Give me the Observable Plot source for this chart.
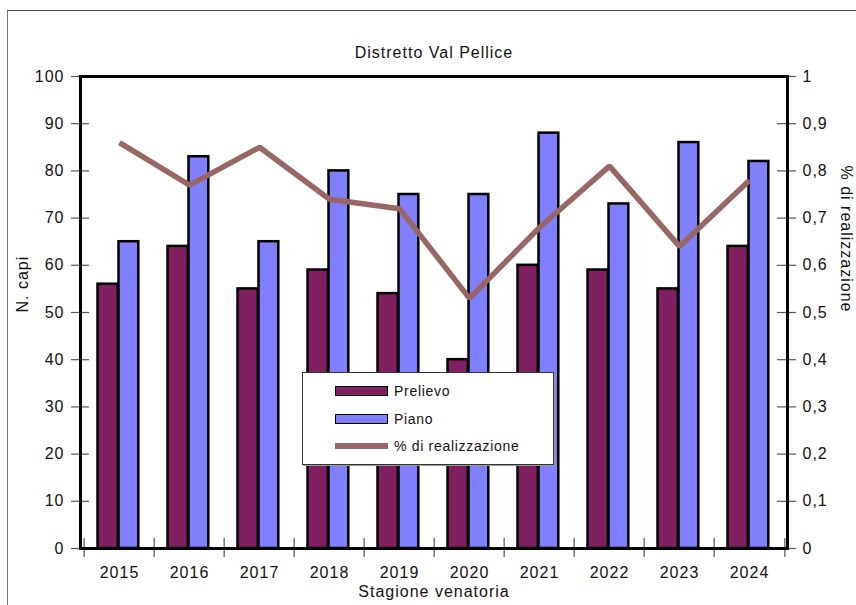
<!DOCTYPE html>
<html>
<head>
<meta charset="utf-8">
<script src="https://cdn.jsdelivr.net/npm/d3@7"></script>
<script src="https://cdn.jsdelivr.net/npm/@observablehq/plot@0.6"></script>
<style>
  html, body { margin: 0; padding: 0; background: #fff; }
  #wrap { position: relative; width: 856px; height: 605px; overflow: hidden; font-family: "Liberation Sans", Arial, sans-serif; }
  #border { position: absolute; left: 7px; top: 10px; width: 900px; height: 700px; border-top: 1px solid #444; border-left: 1px solid #777; }
  #legend { position: absolute; left: 302px; top: 372px; width: 250px; height: 91px; background: #fff; border: 1px solid #333; box-shadow: 1px 1px 0 #999; }
  .row { position: absolute; left: 0; height: 20px; width: 100%; }
  .sw { position: absolute; left: 32px; width: 51px; }
  .lab { position: absolute; left: 91px; top: 0; line-height: 20px; font-size: 14px; letter-spacing: 0.7px; color: #111; }
</style>
</head>
<body>
<div id="wrap">
  <div id="border"></div>
  <div id="chart"></div>
  <div id="legend"></div>
</div>
<script>
const title = "Distretto Val Pellice";
const xTitle = "Stagione venatoria";
const yTitle = "N. capi";
const y2Title = "% di realizzazione";
const years = ["2015","2016","2017","2018","2019","2020","2021","2022","2023","2024"];
const prelievo = [56, 64, 55, 59, 54, 40, 60, 59, 55, 64];
const piano = [65, 83, 65, 80, 75, 75, 88, 73, 86, 82];
const realizzazione = [0.86, 0.77, 0.85, 0.74, 0.72, 0.53, 0.68, 0.81, 0.64, 0.78];
const leftTicks = [0,10,20,30,40,50,60,70,80,90,100];
const rightLabels = ["0","0,1","0,2","0,3","0,4","0,5","0,6","0,7","0,8","0,9","1"];
const seriesNames = ["Prelievo", "Piano", "% di realizzazione"];
const colors = ["#802060", "#8080ff", "#996666"];

const W = 856, H = 605, ML = 80, MR = 69, MT = 76, MB = 57;
const PW = W - ML - MR, PH = H - MT - MB;
const BW = PW / years.length;

const rowsP = years.map((y, i) => ({year: y, value: prelievo[i]}));
const rowsQ = years.map((y, i) => ({year: y, value: piano[i]}));
const rowsR = years.map((y, i) => ({year: y, value: realizzazione[i]}));

const chart = Plot.plot({
  width: W, height: H,
  marginLeft: ML, marginRight: MR, marginTop: MT, marginBottom: MB,
  style: {fontFamily: "'Liberation Sans', Arial, sans-serif", fontSize: "16px", letterSpacing: "1px", color: "#111", background: "transparent"},
  x: {type: "band", domain: years, paddingInner: 0, paddingOuter: 0},
  y: {domain: [0, 100]},
  marks: [
    Plot.barY(rowsP, {x: "year", y: "value", fill: colors[0], stroke: "#000", strokeWidth: 2.5, insetLeft: 13.5, insetRight: BW - 34.5}),
    Plot.barY(rowsQ, {x: "year", y: "value", fill: colors[1], stroke: "#000", strokeWidth: 2.5, insetLeft: 34.5, insetRight: BW - 55}),
    Plot.line(rowsR, {x: "year", y: d => d.value * 100, stroke: colors[2], strokeWidth: 5.5, strokeLinejoin: "miter", strokeLinecap: "butt"}),
    Plot.ruleY(leftTicks, {y: d => d, insetLeft: -9, insetRight: PW - 9, stroke: "#555", strokeWidth: 1.2}),
    Plot.ruleY(leftTicks, {y: d => d, insetLeft: PW - 10, insetRight: -9, stroke: "#555", strokeWidth: 1.2}),
    Plot.ruleX(years, {x: d => d, dx: -BW / 2, insetTop: PH - 10, insetBottom: -9, stroke: "#555", strokeWidth: 1.2}),
    Plot.ruleX(years.slice(-1), {x: d => d, dx: BW / 2, insetTop: PH - 10, insetBottom: -9, stroke: "#555", strokeWidth: 1.2}),
    Plot.frame({stroke: "#000", strokeWidth: 3}),
    Plot.axisY(leftTicks, {anchor: "left", tickSize: 0, tickPadding: 16, label: null, fill: "#111"}),
    Plot.axisY(leftTicks, {anchor: "right", tickSize: 0, tickPadding: 15, label: null, fill: "#111", tickFormat: d => rightLabels[leftTicks.indexOf(d)]}),
    Plot.axisX({tickSize: 0, tickPadding: 18, label: null, fill: "#111"}),
    Plot.text([title], {frameAnchor: "top", dy: -30, fontSize: 16, fill: "#111"}),
    Plot.text([xTitle], {frameAnchor: "bottom", dy: 48, fontSize: 16, fill: "#111"}),
    Plot.text([yTitle], {frameAnchor: "left", dx: -58, rotate: -90, fontSize: 16, fill: "#111"}),
    Plot.text([y2Title], {frameAnchor: "right", dx: 59, rotate: 90, fontSize: 16, fill: "#111"})
  ]
});
document.getElementById("chart").appendChild(chart);

const legend = document.getElementById("legend");
const rowTops = [8, 36, 63];
seriesNames.forEach((name, i) => {
  const row = document.createElement("div");
  row.className = "row";
  row.style.top = rowTops[i] + "px";
  const sw = document.createElement("div");
  sw.className = "sw";
  if (i < 2) {
    sw.style.top = "5px"; sw.style.height = "8px";
    sw.style.background = colors[i]; sw.style.border = "1px solid #000";
  } else {
    sw.style.top = "7px"; sw.style.height = "6px"; sw.style.width = "53px";
    sw.style.background = colors[i];
  }
  const lab = document.createElement("div");
  lab.className = "lab";
  lab.textContent = name;
  row.appendChild(sw); row.appendChild(lab);
  legend.appendChild(row);
});
</script>
</body>
</html>
